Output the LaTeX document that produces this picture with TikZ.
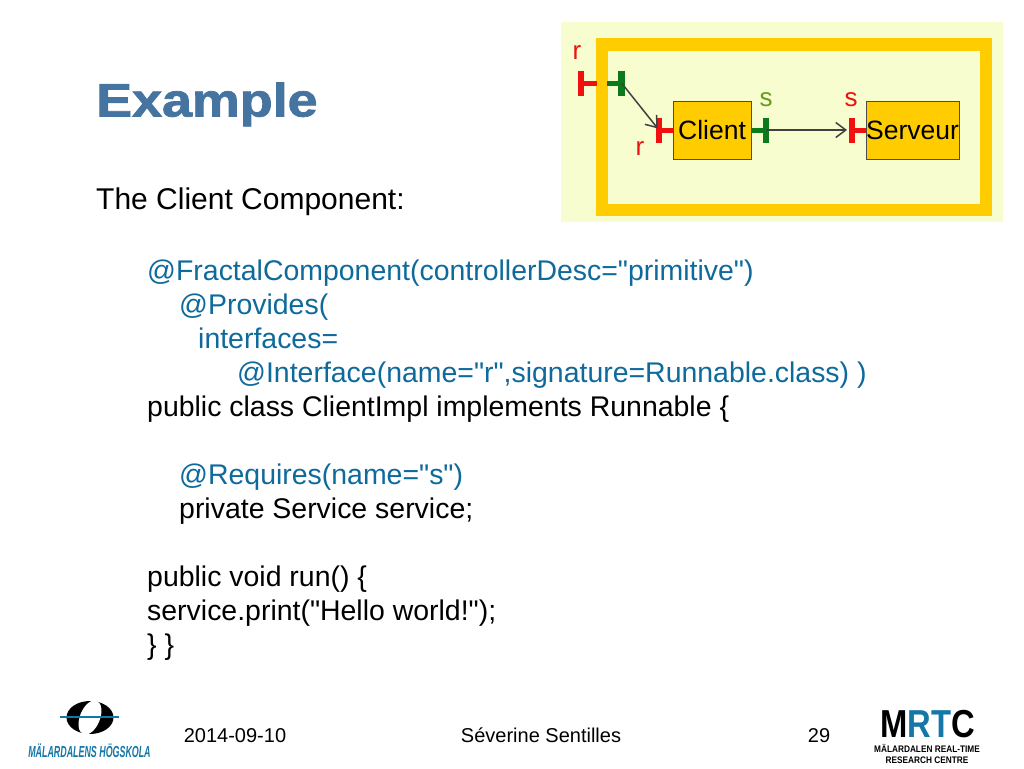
\documentclass[tikz,border=0pt]{standalone}
\usepackage{fontspec}
\setmainfont{Liberation Sans}[Ligatures=TeXOff]
\newfontfamily\titlefont{Liberation Sans}[BoldFeatures={FakeBold=1.6}]
\usetikzlibrary{arrows.meta}
\definecolor{titleblue}{HTML}{44749F}
\definecolor{codeblue}{HTML}{0F6A9C}
\definecolor{logoblue}{HTML}{1577A8}
\definecolor{panelbg}{HTML}{F7FDCF}
\definecolor{boxgold}{HTML}{FFCC00}
\definecolor{portred}{HTML}{F01010}
\definecolor{portgreen}{HTML}{0A7A1A}
\definecolor{labelgreen}{HTML}{6A9A20}
\tikzset{
    bodytext/.style={anchor=base west,inner sep=0pt,font=\fontsize{28.45}{28.45}\selectfont},
    annot/.style={bodytext,text=codeblue},
    foot/.style={anchor=base,inner sep=0pt,font=\fontsize{20}{20}\selectfont},
    compbox/.style={draw=black!70,line width=0.8pt,fill=boxgold,minimum height=58pt,inner sep=0pt,font=\fontsize{26.5}{26.5}\selectfont},
    portlabel/.style={inner sep=0pt,font=\fontsize{26}{26}\selectfont},
    bind/.style={draw=black!75,line width=1.5pt,-{Straight Barb[length=10pt,width=15pt]}},
    logosub/.style={inner sep=0pt,font=\bfseries\fontsize{9.5}{9.5}\selectfont,transform shape,xscale=0.87}
}
\begin{document}
\begin{tikzpicture}[x=1pt,y=-1pt]
    \useasboundingbox (0,0) rectangle (1024,768);
    \fill[white] (0,0) rectangle (1024,768);
    %% title and text
    \node[anchor=base west,inner sep=0pt,text=titleblue,font=\titlefont\bfseries\fontsize{47}{47}\selectfont,transform shape,xscale=1.145] (title) at (96,116.5) {Example};
    \node[bodytext,font=\fontsize{30}{30}\selectfont] (intro) at (96,209.5) {The Client Component:};
    \node[annot] (ann1) at (147,280.5) {@FractalComponent(controllerDesc="primitive")};
    \node[annot] (ann2) at (179,314.5) {@Provides(};
    \node[annot] (ann3) at (198,348.5) {interfaces=};
    \node[annot] (ann4) at (237,382.5) {@Interface(name="r",signature=Runnable.class) )};
    \node[bodytext] (cls) at (147,416.5) {public class ClientImpl implements Runnable \{};
    \node[annot] (ann5) at (179,484.5) {@Requires(name="s")};
    \node[bodytext] (field) at (179,518.5) {private Service service;};
    \node[bodytext] (run) at (147,586.5) {public void run() \{};
    \node[bodytext] (call) at (147,620.5) {service.print("Hello world!");};
    \node[bodytext] (closing) at (147,654.5) {\} \}};
    %% composite panel
    \fill[panelbg] (561,22) rectangle (1003,222);
    \draw[boxgold,line width=12.5pt] (602,44.5) rectangle (986,210);
    \node[compbox,minimum width=78pt] (client) at (712,130) {Client};
    \node[compbox,minimum width=93pt] (serveur) at (912.5,130) {Serveur};
    %% ports
    \foreach \nm/\x/\y/\stem/\col in {outerR/581/83/597/portred,innerR/621.5/83/607/portgreen,clientR/659/130/673/portred,clientS/766/130/751/portgreen,servS/852/130/866/portred} {
        \coordinate (\nm) at (\x,\y);
        \draw[\col,line width=6.5pt] (\nm) ++(0,-12.5) -- ++(0,25);
        \draw[\col,line width=5pt] (\nm) -- (\stem,\y);
    }
    \node[portlabel,text=portred] (lblR) at (577,53) {r};
    \node[portlabel,text=portred] (lblRc) at (640,149) {r};
    \node[portlabel,text=labelgreen] (lblS) at (766,100) {s};
    \node[portlabel,text=portred] (lblSs) at (851,100) {s};
    %% bindings
    \draw[bind,shorten >=2pt] (innerR) -- (clientR);
    \draw[bind,shorten >=5pt] (clientS) -- (servS);
    %% footer
    \node[foot] (date) at (235,742.5) {2014-09-10};
    \node[foot] (author) at (541,742.5) {Séverine Sentilles};
    \node[foot] (page) at (819,742.5) {29};
    %% left logo
    \fill[black] (90,717.5) ellipse [x radius=23.5pt,y radius=16.5pt];
    \fill[white] (90,717.5) ellipse [x radius=18pt,y radius=10pt,rotate=68];
    \draw[logoblue,line width=1.8pt] (60,717) -- (119,717);
    \node[inner sep=0pt,text=logoblue,font=\bfseries\itshape\fontsize{16}{16}\selectfont,transform shape,xscale=0.555] (mdh) at (89.5,750.5) {MÄLARDALENS HÖGSKOLA};
    %% right logo
    \node[inner sep=0pt,anchor=base,font=\bfseries\fontsize{39}{39}\selectfont,transform shape,xscale=0.84] (mrtc) at (928,737) {M\textcolor{logoblue}{RT}C};
    \node[logosub] (mrtcA) at (927,748.5) {MÄLARDALEN REAL-TIME};
    \node[logosub] (mrtcB) at (927,760) {RESEARCH CENTRE};
\end{tikzpicture}
\end{document}
